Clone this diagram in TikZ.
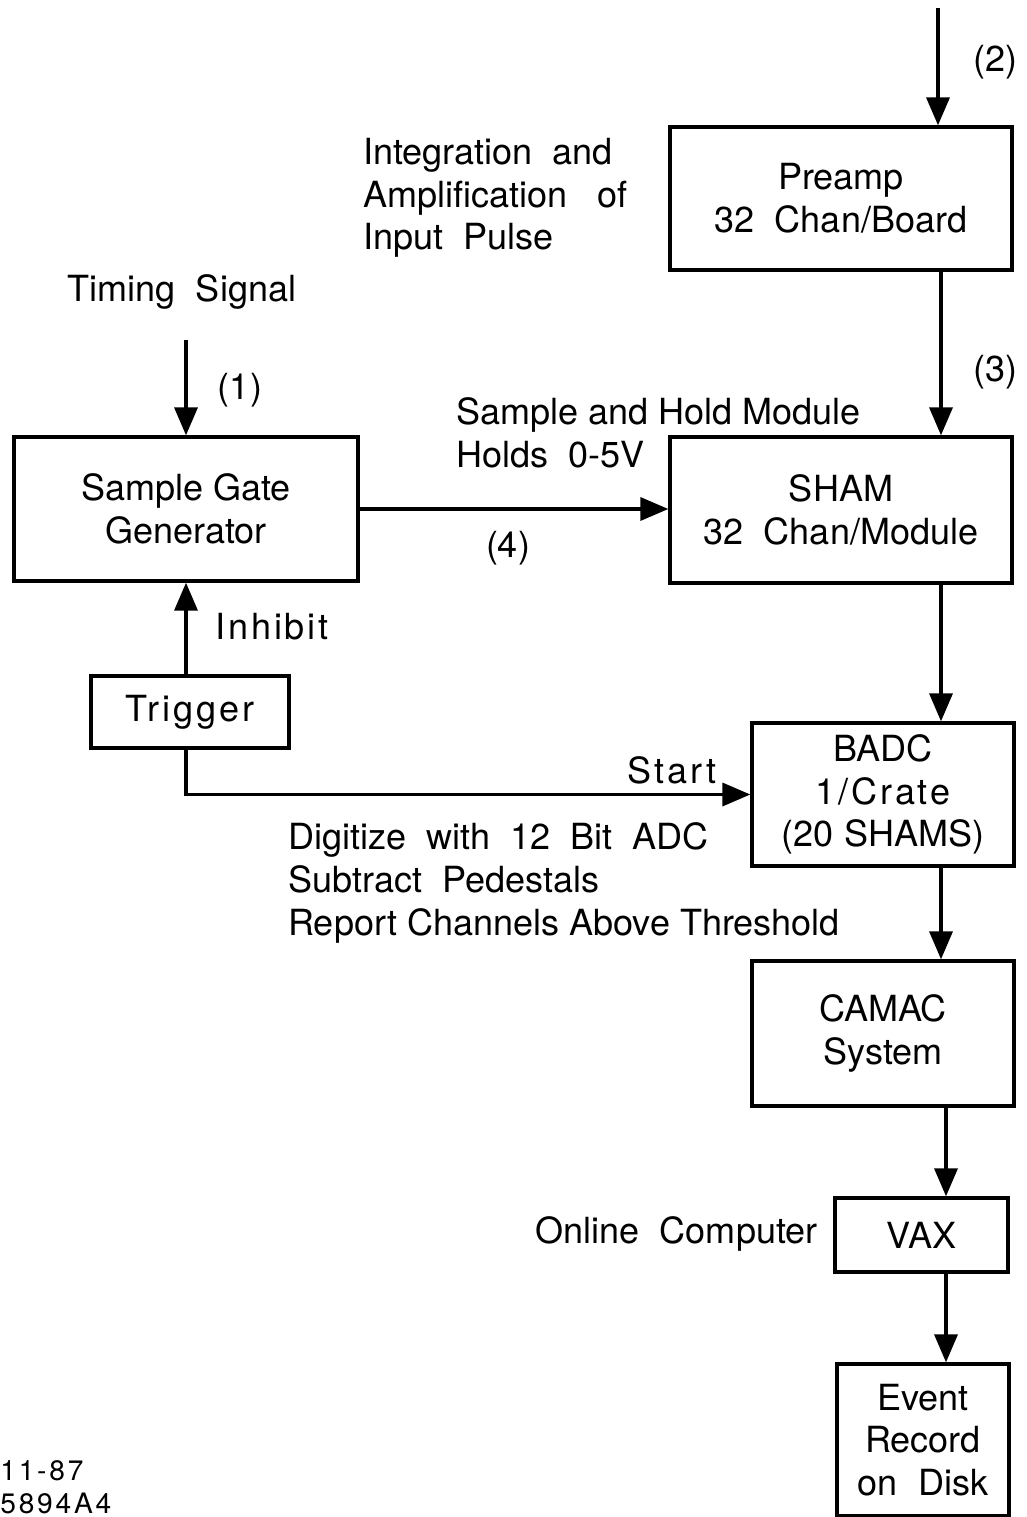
\documentclass[tikz,border=0pt]{standalone}
\usepackage{fontspec}
\setsansfont{TeX Gyre Heros}
\usepackage{tikz}
\usetikzlibrary{arrows.meta, positioning, calc}

\begin{document}
\begin{tikzpicture}[x=0.02cm, y=-0.02cm,
    font=\sffamily\fontsize{20.5}{24.3}\selectfont,
    box/.style={draw, line width=1.9pt, align=center, inner sep=0pt},
    arr/.style={line width=2pt, -{Triangle[length=0.56cm, width=0.46cm]}},
    txt/.style={align=left, inner sep=0pt}]
  \useasboundingbox (0,0) rectangle (1027,1517);
  \clip (0,0) rectangle (1027,1517);
  % blocks
  \node[box, minimum width=6.84cm, minimum height=2.86cm]
    (preamp) at (841,198.5) {Preamp\\32\ \ Chan/Board};
  \node[box, minimum width=6.84cm, minimum height=2.92cm]
    (sham) at (841,510) {SHAM\\32\ \ Chan/Module};
  \node[box, minimum width=6.88cm, minimum height=2.88cm]
    (sgg) at (186,509) {Sample Gate\\Generator};
  \node[box, minimum width=3.96cm, minimum height=1.44cm]
    (trigger) at (190,712) {\addfontfeature{LetterSpace=8}Trigger};
  \node[box, minimum width=5.24cm, minimum height=2.86cm]
    (badc) at (883,794.5) {BADC\\{\addfontfeature{LetterSpace=8}1/Crate}\\(20 SHAMS)};
  \node[box, minimum width=5.24cm, minimum height=2.9cm]
    (camac) at (883,1033.5) {CAMAC\\System};
  \node[box, minimum width=3.46cm, minimum height=1.48cm]
    (vax) at (921.5,1235) {VAX};
  \node[box, minimum width=3.44cm, minimum height=3.04cm]
    (event) at (923,1440) {Event\\Record\\on\ \ Disk};
  % signal columns
  \coordinate (in2) at (938,8);
  \coordinate (col) at (941,0);
  \coordinate (col2) at (946,0);
  \coordinate (in1) at (186,340);
  % connectors
  \draw[arr] (in2) -- (in2 |- preamp.north);
  \draw[arr] (preamp.south -| col) -- (sham.north -| col);
  \draw[arr] (sham.south -| col) -- (badc.north -| col);
  \draw[arr] (badc.south -| col) -- (camac.north -| col);
  \draw[arr] (camac.south -| col2) -- (vax.north -| col2);
  \draw[arr] (vax.south -| col2) -- (event.north -| col2);
  \draw[arr] (in1) -- (sgg.north);
  \draw[arr] (sgg.east) -- (sgg.east -| sham.west);
  \draw[arr] (trigger.north -| sgg.south) -- (sgg.south);
  \draw[arr] (trigger.south -| sgg.south) |- (badc.west);
  % labels
  \node (l2) at (995,62) {(2)};
  \node (l3) at (995,372) {(3)};
  \node (l1) at (240,390) {(1)};
  \node (l4) at (508,548) {(4)};
  \node[txt, anchor=west] (integ) at (363,198)
    {Integration\ \ and\\Amplification\ \ \ of\\Input\ \ Pulse};
  \node (timing) at (182,292) {Timing\ \ Signal};
  \node[txt, anchor=west] (holds) at (456,433)
    {Sample and Hold Module\\Holds\ \ 0-5V};
  \node[txt, anchor=west] (inhibit) at (215,627)
    {\addfontfeature{LetterSpace=8}Inhibit};
  \node (start) at (672,770) {\addfontfeature{LetterSpace=8}Start};
  \node[txt, anchor=west] (digit) at (288,883)
    {Digitize\ \ with\ \ 12\ \ Bit\ \ ADC\\Subtract\ \ Pedestals\\Report Channels\ Above\ Threshold};
  \node[anchor=east, inner sep=0pt] (online) at (818,1234) {Online\ \ Computer};
  \node[txt, anchor=west, font=\sffamily\fontsize{16}{18.5}\selectfont\addfontfeature{LetterSpace=10}]
    (date) at (0,1487) {11-87\\5894A4};
\end{tikzpicture}
\end{document}
